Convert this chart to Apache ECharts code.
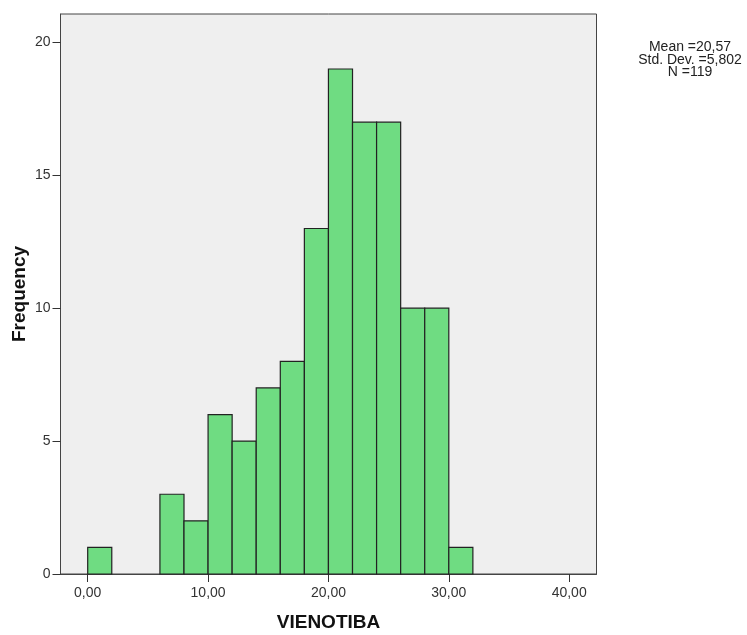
<!DOCTYPE html>
<html><head><meta charset="utf-8">
<script src="https://cdn.jsdelivr.net/npm/echarts@6/dist/echarts.min.js"></script>
<style>html,body{margin:0;padding:0;background:#fff}#c{width:747px;height:635px}</style>
</head><body><div id="c"></div>
<script>
var binStarts = [0, 2, 4, 6, 8, 10, 12, 14, 16, 18, 20, 22, 24, 26, 28, 30];
var binWidth = 2;
var counts = [1, 0, 0, 3, 2, 6, 5, 7, 8, 13, 19, 17, 17, 10, 10, 1];
var xTicks = [0, 10, 20, 30, 40];
var yTicks = [0, 5, 10, 15, 20];
var statLines = ['Mean =20,57', 'Std. Dev. =5,802', 'N =119'];

var data = binStarts.map(function (s, i) { return [s, s + binWidth, counts[i]]; }).filter(function (d) { return d[2] > 0; });

var chart = echarts.init(document.getElementById('c'));
chart.setOption({
  animation: false,
  backgroundColor: '#fff',
  grid: { left: 60.5, right: 150.5, top: 14, bottom: 61, outerBoundsMode: 'none', containLabel: false,
    show: true, backgroundColor: '#efefef', borderColor: '#444', borderWidth: 1 },
  xAxis: {
    type: 'value', min: -2.26, max: 42.27,
    name: 'VIENOTIBA', nameLocation: 'middle', nameGap: 39, nameMoveOverlap: false,
    nameTextStyle: { fontFamily: 'Liberation Sans', fontWeight: 'bold', fontSize: 19, color: '#111' },
    axisLine: { show: true, onZero: false, lineStyle: { color: '#444' } },
    splitLine: { show: false },
    axisTick: { show: true, length: 8, lineStyle: { color: '#333' }, customValues: xTicks },
    axisLabel: { customValues: xTicks, margin: 12, fontFamily: 'Liberation Sans', fontSize: 14, color: '#333',
      formatter: function (v) { return v.toFixed(2).replace('.', ','); } }
  },
  yAxis: {
    type: 'value', min: 0, max: 21.07,
    name: 'Frequency', nameLocation: 'middle', nameGap: 31.5, nameRotate: 90, nameMoveOverlap: false,
    nameTextStyle: { fontFamily: 'Liberation Sans', fontWeight: 'bold', fontSize: 19, color: '#111' },
    axisLine: { show: true, onZero: false, lineStyle: { color: '#444' } },
    splitLine: { show: false },
    axisTick: { show: true, length: 8, lineStyle: { color: '#333' }, customValues: yTicks },
    axisLabel: { customValues: yTicks, margin: 10, fontFamily: 'Liberation Sans', fontSize: 14, color: '#333' }
  },
  graphic: [{
    type: 'text', x: 690, y: 41,
    style: { text: statLines.join('\n'), fill: '#222', font: '14px "Liberation Sans"', align: 'center', verticalAlign: 'top', lineHeight: 12.5 }
  }],
  series: [{
    type: 'custom',
    data: data,
    encode: { x: [0, 1], y: 2 },
    renderItem: function (params, api) {
      var p0 = api.coord([api.value(0), 0]);
      var p1 = api.coord([api.value(1), api.value(2)]);
      return {
        type: 'rect',
        shape: { x: p0[0], y: p1[1], width: p1[0] - p0[0], height: p0[1] - p1[1] },
        style: { fill: '#6fdc82', stroke: '#222', lineWidth: 1.2 }
      };
    }
  }]
});
</script></body></html>
